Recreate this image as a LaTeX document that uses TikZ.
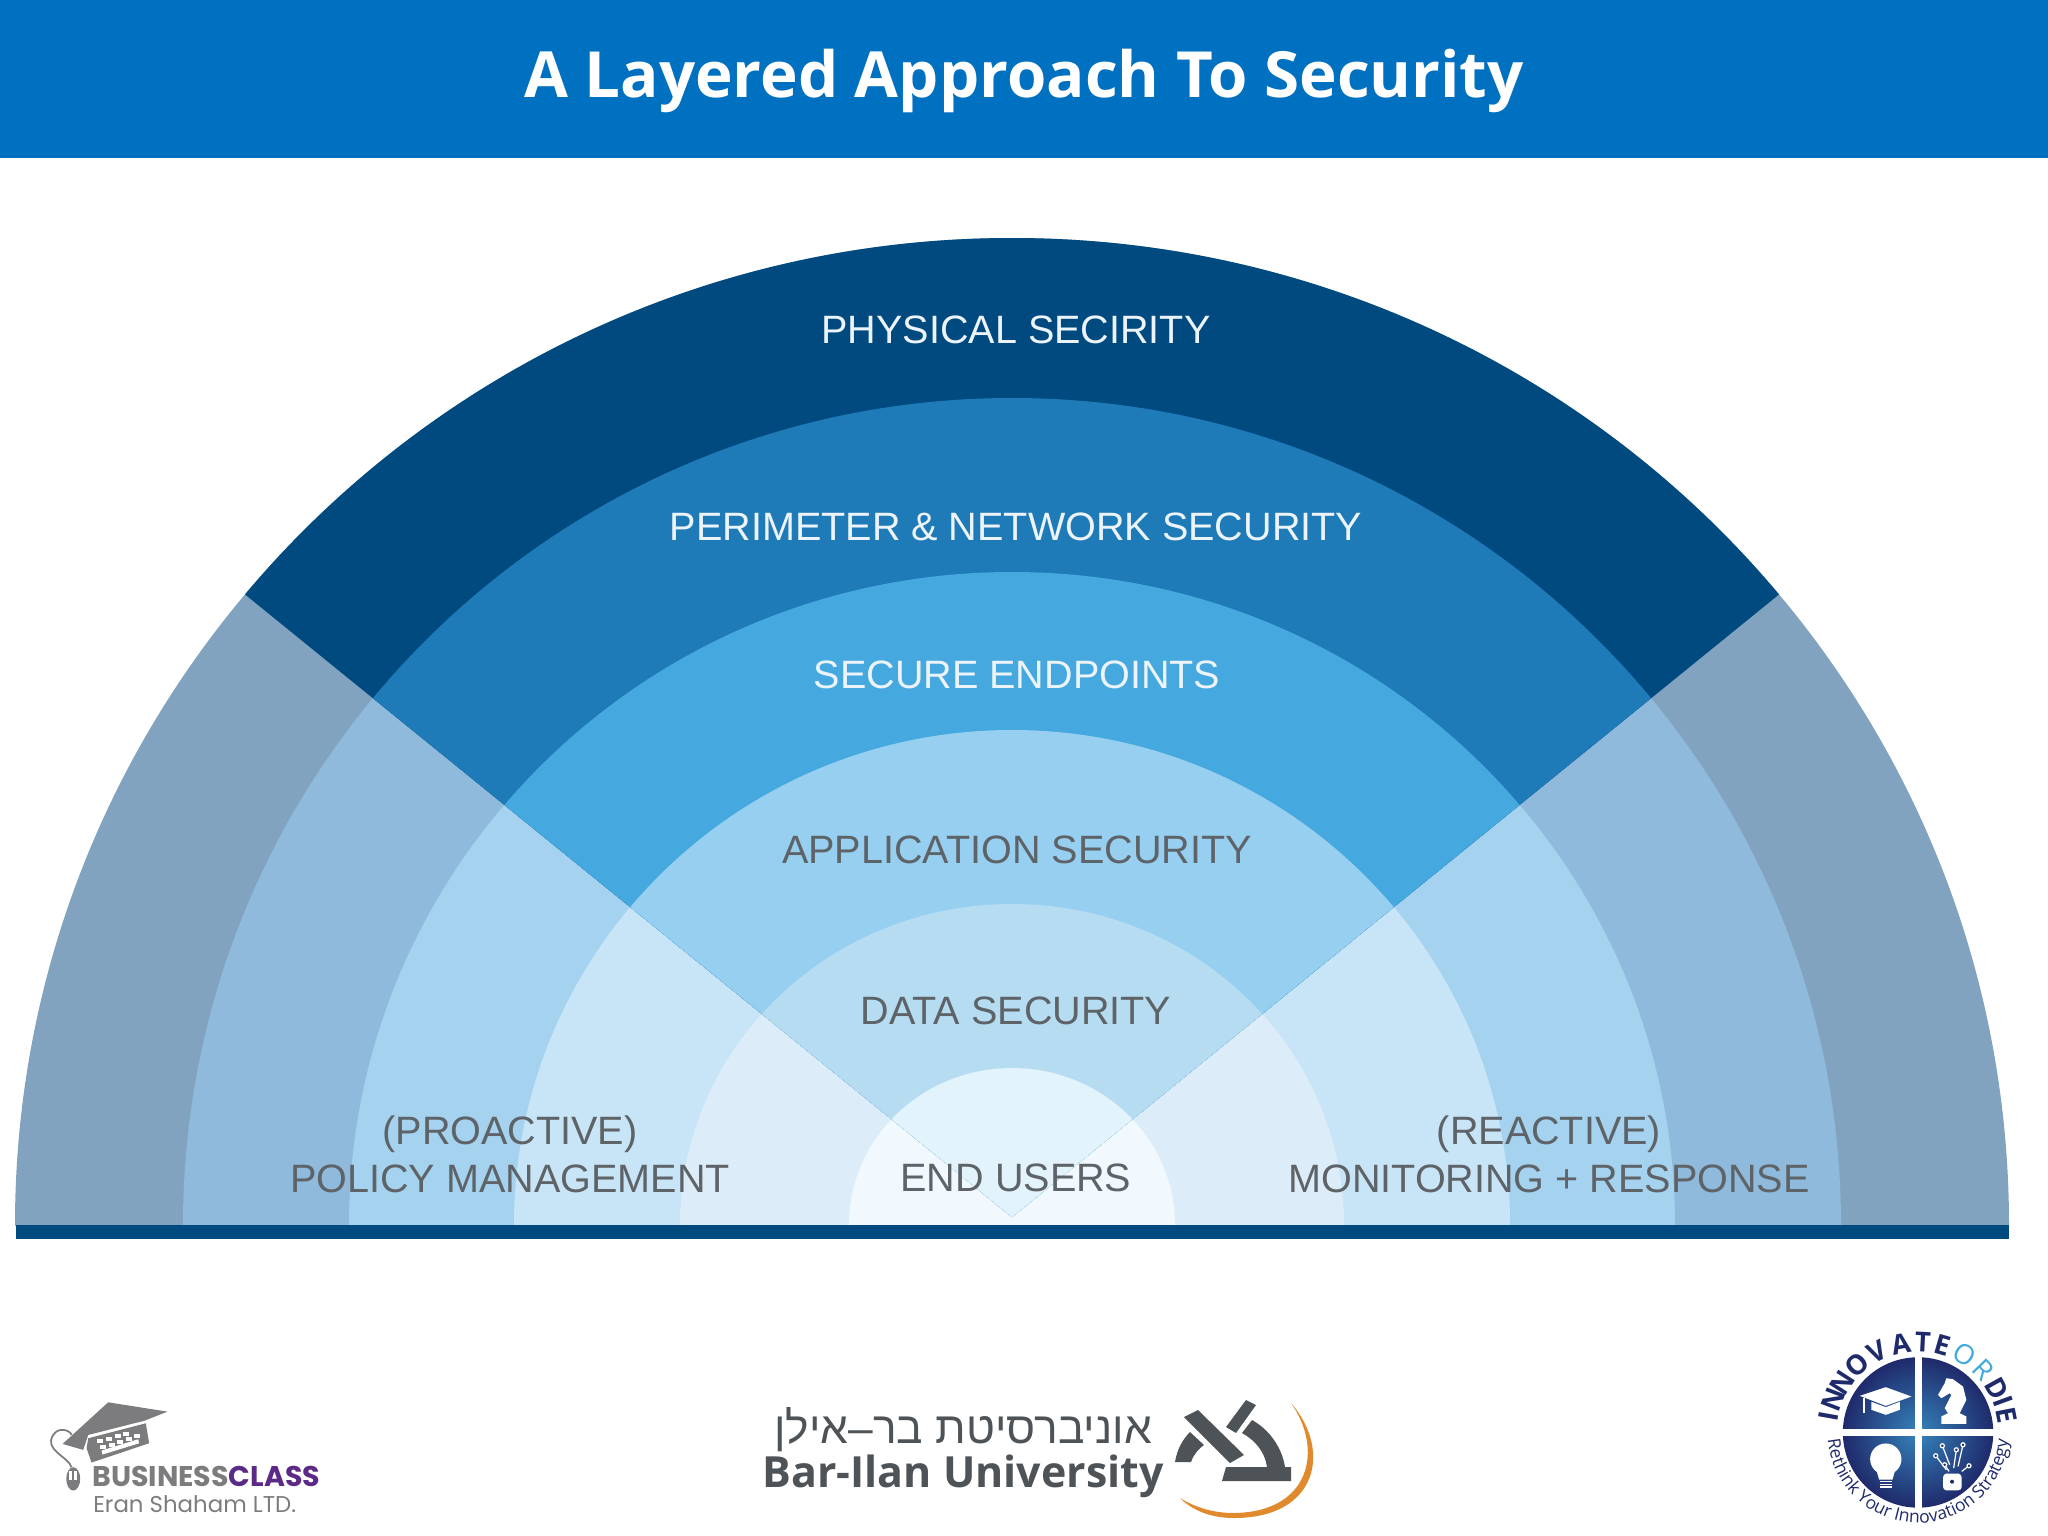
\documentclass[tikz,border=0pt]{standalone}
\usepackage{fontspec}
\setmainfont{Liberation Sans}
\newfontfamily\titlefont{Open Sans}
\newfontfamily\logofont{Open Sans}
\newfontfamily\classfont{Poppins}
\newfontfamily\hebfont[Script=Hebrew]{Liberation Sans}
\TeXXeTstate=1
\usetikzlibrary{positioning,calc,decorations.text}
\definecolor{barblue}{HTML}{0070C0}
\definecolor{basebar}{HTML}{004A80}
\definecolor{textgrey}{HTML}{5E6368}
\definecolor{textwhite}{HTML}{ECF4FA}
\definecolor{sideA}{HTML}{81A3BF}
\definecolor{sideB}{HTML}{8FBADB}
\definecolor{sideC}{HTML}{A5D3EF}
\definecolor{sideD}{HTML}{C8E5F7}
\definecolor{sideE}{HTML}{DCEDF9}
\definecolor{sideF}{HTML}{F1F9FE}
\definecolor{topA}{HTML}{004A80}
\definecolor{topB}{HTML}{1F7AB8}
\definecolor{topC}{HTML}{45A8DE}
\definecolor{topD}{HTML}{97CFF0}
\definecolor{topE}{HTML}{B6DCF2}
\definecolor{topF}{HTML}{E2F3FC}
\definecolor{logonavy}{HTML}{1F2A6B}
\definecolor{logosky}{HTML}{3FA9DC}
\definecolor{logogrey}{HTML}{4E5357}
\definecolor{logoorange}{HTML}{E08A2E}
\definecolor{classgrey}{HTML}{7C7C7E}
\definecolor{classpurple}{HTML}{5B2A86}
\tikzset{
  ringlabel/.style={font=\fontsize{11.25}{13.7}\selectfont,text=textgrey,align=center,inner sep=0pt},
  toplabel/.style={ringlabel,text=textwhite},
  logoletter/.style={font=\logofont\bfseries\fontsize{7.8}{9}\selectfont,text=logonavy,inner sep=0pt},
}
\begin{document}
\begin{tikzpicture}[x=0.01cm,y=-0.01cm]
\useasboundingbox (0,0) rectangle (2048,1536);
\fill[barblue] (0,0) rectangle (2048,158);
\node[font=\titlefont\bfseries\fontsize{18.1}{22}\selectfont,text=white] (title) at (1024,81) {A Layered Approach To Security};
\coordinate (hub) at (1012,1225);
\begin{scope}
\clip (0,160) rectangle (2048,1225);
\foreach \rx/\ry/\shade in {997/987/sideA,829/827/sideB,663/653/sideC,498/495/sideD,332/321/sideE,163/157/sideF}
  \fill[\shade] (hub) ellipse [x radius=\rx,y radius=\ry];
\clip (1012,1217) -- (19,411) -- (19,100) -- (2005,100) -- (2005,411) -- cycle;
\foreach \rx/\ry/\shade in {997/987/topA,829/827/topB,663/653/topC,498/495/topD,332/321/topE,163/157/topF}
  \fill[\shade] (hub) ellipse [x radius=\rx,y radius=\ry];
\end{scope}
\fill[basebar] (16,1225) rectangle (2009,1239);
\node[toplabel] (physical) at (1016,330) {PHYSICAL SECIRITY};
\node[toplabel] (perimeter) at (1016,527) {PERIMETER \& NETWORK SECURITY};
\node[toplabel] (endpoints) at (1017,675) {SECURE ENDPOINTS};
\node[ringlabel] (application) at (1017,850) {APPLICATION SECURITY};
\node[ringlabel] (data) at (1016,1011) {DATA SECURITY};
\node[ringlabel] (users) at (1016,1178) {END USERS};
\node[ringlabel] (policy) at (510,1154) {(PROACTIVE)\\POLICY MANAGEMENT};
\node[ringlabel] (monitoring) at (1549,1154) {(REACTIVE)\\MONITORING + RESPONSE};

\begin{scope}[shift={(20,1380)},x=0.00333cm,y=-0.00333cm]
\fill[classgrey] (128,192) -- (265,67) -- (443,95) -- (375,122) -- (205,165) -- (190,210) -- cycle;
\fill[classgrey] (200,205) -- (205,175) -- (378,130) -- (388,190) -- (215,248) -- cycle;
\foreach \kx/\ky in {232/178,258/170,284/162,310/155,240/196,266/188,292/180,318/172,344/163}
  \fill[white] (\kx,\ky) rectangle +(18,12);
\fill[white] (245,212) -- (355,178) -- (358,190) -- (248,224) -- cycle;
\draw[classgrey,line width=0.5pt] (155,262) .. controls (145,230) and (70,210) .. (100,165) .. controls (115,140) and (150,150) .. (155,165);
\fill[classgrey] (160,297) ellipse [x radius=21,y radius=35];
\fill[white] (148,272) rectangle (172,300);
\fill[classgrey] (157,272) rectangle (163,300);
\node[font=\classfont\bfseries\fontsize{8.1}{9}\selectfont,text=classgrey,anchor=base west,inner sep=0pt] (business) at (215,320) {BUSINESS\textcolor{classpurple}{CLASS}};
\node[font=\classfont\fontsize{6.5}{8}\selectfont,text=classgrey,anchor=base west,inner sep=0pt] (eran) at (218,397) {Eran Shaham LTD.};
\end{scope}

\node[font=\hebfont\fontsize{12.6}{15}\selectfont,text=logogrey,anchor=base,inner sep=0pt] (hebrew) at (963,1443) {\beginR אוניברסיטת בר–אילן\endR};
\node[font=\logofont\bfseries\fontsize{12.2}{15}\selectfont,text=logogrey,anchor=base,inner sep=0pt] (barilan) at (963,1487) {Bar-Ilan University};
\fill[logogrey] (1184,1417) -- (1198,1410) -- (1244,1455) -- (1230,1463) -- cycle;
\fill[logogrey] (1226,1427) -- (1246,1400) -- (1256,1405) -- (1236,1433) -- cycle;
\fill[logogrey] (1175,1462) .. controls (1177,1450) and (1182,1440) .. (1190,1432) -- (1204,1445) .. controls (1197,1450) and (1193,1456) .. (1191,1462) -- cycle;
\fill[logogrey] (1222,1481) -- (1226,1467) -- (1267,1467) .. controls (1265,1452) and (1255,1440) .. (1242,1433) -- (1252,1420) .. controls (1270,1430) and (1282,1448) .. (1285,1467) -- (1291,1467) -- (1291,1481) -- cycle;
\fill[logoorange] (1291,1403) .. controls (1332,1450) and (1318,1518) .. (1234,1518) .. controls (1210,1518) and (1192,1510) .. (1180,1498) .. controls (1195,1507) and (1212,1513) .. (1234,1513) .. controls (1310,1512) and (1324,1450) .. (1291,1403) -- cycle;

\begin{scope}[shift={(1750,1300)},x=0.00333cm,y=-0.00333cm]
\coordinate (badge) at (505,398);
\shade[inner color=logosky!70!logonavy,outer color=logonavy] (badge) circle (226);
\fill[white] (496,150) rectangle (516,650);
\fill[white] (250,389) rectangle (760,409);
\fill[white] (330,288) -- (408,262) -- (485,290) -- (408,318) -- cycle;
\fill[white] (365,306) -- (408,322) -- (450,306) -- (450,330) -- (408,345) -- (365,330) -- cycle;
\draw[white,line width=0.4pt] (343,295) -- (343,340);
\fill[white] (575,372) -- (650,372) -- (650,350) -- (630,340) -- (650,300) -- (640,260) -- (610,238) -- (590,235) -- (585,250) -- (565,285) -- (575,295) -- (600,280) -- (605,285) -- (585,325) -- (595,340) -- (575,350) -- cycle;
\fill[white] (408,478) circle (47);
\fill[white] (378,505) -- (438,505) -- (428,540) -- (388,540) -- cycle;
\foreach \sy in {546,554,562}
  \draw[white,line width=0.4pt] (390,\sy) -- (426,\sy);
\fill[white,rounded corners=1pt] (580,522) rectangle (636,572);
\draw[white,line width=0.6pt] (590,522) arc (180:0:18);
\fill[logonavy] (607,546) circle (6);
\foreach \lx/\ly/\ex/\ey in {578/438/600/495,640/435/625/500,620/450/612/505,558/468/590/510,658/498/636/515,585/495/598/515}{
  \draw[white,line width=0.35pt] (\lx,\ly) -- (\ex,\ey);
  \draw[white,line width=0.35pt,fill=logonavy] (\lx,\ly) circle (6);
}
\foreach \ch/\ang [count=\i] in {I/170,N/159,N/147,O/132,V/117,A/101,T/87,E/74,D/29,I/20,E/11}
  \node[logoletter,rotate=\ang-90] (letter\i) at ($(badge)+(-\ang:272)$) {\ch};
\node[logoletter,rotate=-31,text=logosky,font=\logofont\fontsize{7.8}{9}\selectfont] (letterO) at ($(badge)+(-59:272)$) {O};
\node[logoletter,rotate=-46,text=logosky,font=\logofont\fontsize{7.8}{9}\selectfont] (letterR) at ($(badge)+(-44:272)$) {R};
\path[decorate,decoration={text along path,text={|\logofont\fontsize{5}{6}\selectfont\color{logonavy}|Rethink Your Innovation Strategy},text align=center}] ($(badge)+(190:272)$) arc (190:-10:272);
\end{scope}
\end{tikzpicture}
\end{document}
